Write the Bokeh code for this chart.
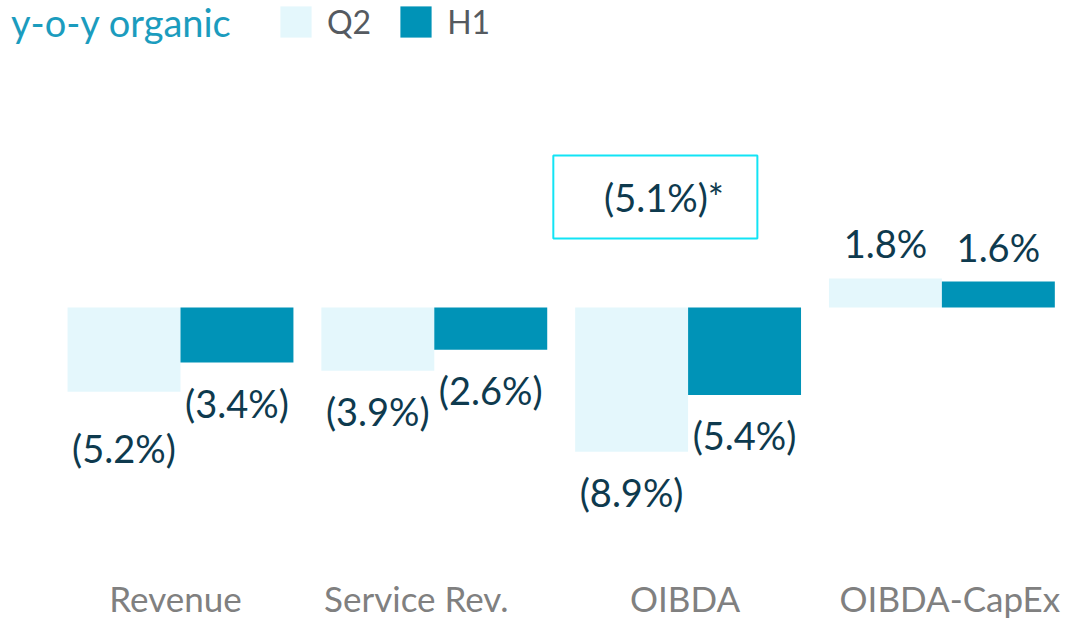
from bokeh.plotting import figure
from bokeh.models import Range1d, Legend, LegendItem, Label, ColumnDataSource
from bokeh.core.properties import value
from bokeh.embed import file_html
from bokeh.resources import INLINE
import numpy as np

categories = ["Revenue", "Service Rev.", "OIBDA", "OIBDA-CapEx"]
q2 = [-5.2, -3.9, -8.9, 1.8]
h1 = [-3.4, -2.6, -5.4, 1.6]
series_names = ["Q2", "H1"]
note_text = "(5.1%)*"
title_text = "y-o-y organic"

FONT = "Lato"
Q2_COLOR = "#e4f7fc"
H1_COLOR = "#0093b7"
VAL_COLOR = "#0e3a4e"
CAT_COLOR = "#808080"

W, H = 1066, 622
p = figure(width=W, height=H, min_border=0,
           x_range=Range1d(-0.7092, 3.4910), y_range=Range1d(-19.44, 18.951),
           x_axis_location=None, y_axis_location=None,
           output_backend="svg", toolbar_location=None)
p.outline_line_color = None
p.xgrid.visible = False
p.ygrid.visible = False
p.background_fill_color = "white"
p.border_fill_color = "white"

idx = np.arange(len(categories))
bw = 0.445
xq = idx - bw / 2
xh = idx + bw / 2

r_q2 = p.vbar(x=xq, top=q2, bottom=0, width=bw, fill_color=Q2_COLOR, line_color=None)
r_h1 = p.vbar(x=xh, top=h1, bottom=0, width=bw, fill_color=H1_COLOR, line_color=None)

def fmt(v):
    return f"({abs(v):.1f}%)" if v < 0 else f"{v:.1f}%"

# value labels
lx = list(xq) + list(xh)
ly = q2 + h1
lt = [fmt(v) for v in ly]
# screen offsets (px, positive = down)
loff = [40 if v < 0 else -35 for v in ly]
loff[0] = 56  # Revenue Q2 label sits lower to avoid overlap
src = ColumnDataSource(dict(x=lx, y=ly, t=lt, off=loff))
p.text(x="x", y="y", text="t", y_offset="off", source=src,
       text_font=value(FONT), text_font_size="38px", text_color=VAL_COLOR,
       text_align="center", text_baseline="middle")

# category labels
cat_dx = [-5, -18, -3, 8]
csrc = ColumnDataSource(dict(x=idx, y=[-17.92] * len(categories), t=categories, dx=cat_dx))
p.text(x="x", y="y", text="t", x_offset="dx", source=csrc,
       text_font=value(FONT), text_font_size="35px", text_color=CAT_COLOR,
       text_align="center", text_baseline="middle", text_line_height=1.0)

# note box around OIBDA headline
p.rect(x=[1.871], y=[6.82], width=0.804, height=5.12, fill_color=None,
       line_color="#12e4f5", line_width=2)
p.text(x=[1.905], y=[6.85], text=[note_text], text_font=value(FONT),
       text_font_size="38px", text_color=VAL_COLOR,
       text_align="center", text_baseline="middle")

# title
p.add_layout(Label(x=-0.668, y=17.65, text=title_text, text_font=FONT,
                   text_font_size="38px", text_color="#1b9cbe",
                   text_baseline="middle"))

legend = Legend(items=[LegendItem(label=series_names[0], renderers=[r_q2]),
                       LegendItem(label=series_names[1], renderers=[r_h1])],
                location=(276, H - 2 - 39), orientation="horizontal",
                glyph_width=39, glyph_height=39, label_standoff=12, spacing=25,
                padding=0, margin=0, border_line_color=None,
                background_fill_alpha=0,
                label_text_font=FONT, label_text_font_size="32px",
                label_text_color="#555a60")
p.add_layout(legend)

open("out.html", "w").write(file_html(p, INLINE))
